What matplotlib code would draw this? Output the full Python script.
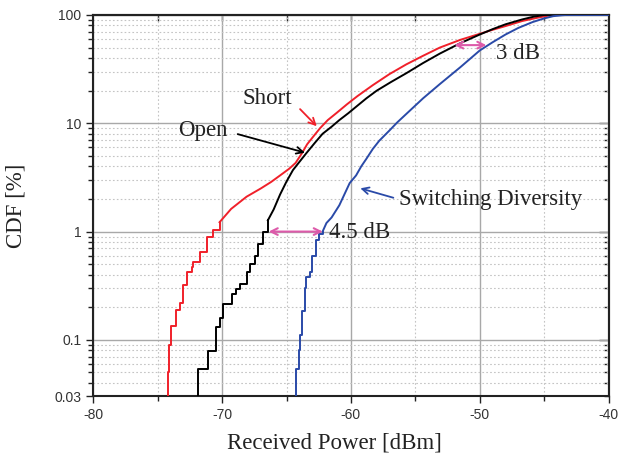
import numpy as np
import matplotlib
matplotlib.use("Agg")
import matplotlib.pyplot as plt
from matplotlib.ticker import FixedLocator, LogLocator, NullFormatter

plt.rcParams["axes.unicode_minus"] = False

# CDF curves: x = received power [dBm], y = CDF [%]
# low tail is an empirical (step) CDF, upper part is dense enough to draw as a line
short_tail_x = [-74.2, -74.2, -74.1, -74.0, -73.6, -73.3, -73.0, -72.75, -72.35, -72.25, -71.7, -71.2, -70.7, -70.2]
short_tail_y = [0.03, 0.05, 0.09, 0.135, 0.19, 0.22, 0.32, 0.42, 0.47, 0.52, 0.65, 0.885, 1.03, 1.22]
short_x = [-70.2, -69.3, -68.1, -67.0, -66.2, -65.5, -64.8, -64.3, -63.8, -63.4, -62.9, -62.4, -61.8,
           -61.1, -60.3, -59.5, -58.3, -57.0, -55.7, -54.4, -53.1, -51.5, -50.0, -49.0, -48.0, -46.7,
           -45.4, -44.7, -44.1, -40.0]
short_y = [1.22, 1.62, 2.1, 2.5, 2.87, 3.3, 3.8, 4.3, 5.3, 6.4, 7.6, 9.0, 10.7,
           12.5, 15.0, 17.8, 22.5, 28.5, 35.0, 42.0, 50.0, 59.0, 67.0, 73.0, 79.0, 88.0,
           95.0, 98.5, 100.0, 100.0]

open_tail_x = [-71.9, -71.9, -71.1, -70.45, -70.2, -69.9, -69.25, -68.95, -68.6, -68.1, -67.85, -67.45, -67.2, -66.8, -66.45]
open_tail_y = [0.03, 0.0536, 0.079, 0.132, 0.16, 0.214, 0.265, 0.294, 0.328, 0.42, 0.50, 0.60, 0.77, 0.99, 1.27]
open_x = [-66.45, -66.0, -65.5, -65.0, -64.5, -64.0, -63.46, -62.8, -62.2, -61.5, -60.9, -60.2, -59.6,
          -58.8, -58.0, -56.9, -55.7, -54.4, -53.1, -51.5, -50.0, -49.0, -48.0, -46.7, -45.8, -45.0, -40.0]
open_y = [1.27, 1.6, 2.2, 2.9, 3.7, 4.4, 5.3, 6.6, 8.0, 9.3, 10.7, 12.4, 14.2,
          17.0, 20.0, 24.0, 29.0, 36.0, 44.0, 55.0, 66.0, 74.0, 82.0, 91.0, 96.5, 100.0, 100.0]

sw_tail_x = [-64.3, -64.3, -64.0, -63.95, -63.8, -63.6, -63.45, -63.2, -63.0, -62.7, -62.45, -62.2]
sw_tail_y = [0.03, 0.0536, 0.08, 0.11, 0.186, 0.30, 0.38, 0.42, 0.60, 0.83, 0.95, 1.0]
sw_x = [-62.2, -61.9, -61.5, -60.9, -60.1, -59.6, -59.2, -58.8, -58.3, -57.8, -57.0, -56.4, -55.7,
        -54.4, -53.1, -51.5, -50.0, -49.0, -48.0, -47.0, -45.9, -45.0, -44.3, -43.6, -43.3, -40.0]
sw_y = [1.0, 1.2, 1.35, 1.75, 2.8, 3.3, 4.0, 4.7, 5.8, 6.9, 8.6, 10.2, 12.2,
        17.0, 23.0, 33.0, 47.0, 56.0, 66.0, 76.0, 86.0, 93.0, 97.5, 99.5, 100.0, 100.0]

ytick_vals = [0.03, 0.1, 1, 10, 100]
ytick_labels = ["0.03", "0.1", "1", "10", "100"]
xtick_vals = [-80, -70, -60, -50, -40]

RED = "#f0202a"
BLUE = "#2a4aa8"
PINK = "#dd5aaa"
SERIF = "Liberation Serif"

fig = plt.figure(figsize=(6.31, 4.57), dpi=100)
ax = fig.add_axes([0.1479, 0.1324, 0.8165, 0.8348])

# curves
for tx, ty, bx, by, col in [(short_tail_x, short_tail_y, short_x, short_y, RED),
                            (open_tail_x, open_tail_y, open_x, open_y, "black"),
                            (sw_tail_x, sw_tail_y, sw_x, sw_y, BLUE)]:
    ax.plot(tx, ty, color=col, lw=1.4, drawstyle="steps-post", zorder=3)
    ax.plot(bx, by, color=col, lw=1.4, zorder=3)

ax.set_yscale("log")
ax.set_xlim(-80, -40)
ax.set_ylim(0.03, 100)

ax.set_xticks(xtick_vals)
ax.xaxis.set_minor_locator(FixedLocator([-75, -65, -55, -45]))
ax.set_yticks(ytick_vals)
ax.set_yticklabels(ytick_labels)
ax.yaxis.set_minor_locator(LogLocator(base=10, subs=np.arange(2, 10)))
ax.yaxis.set_minor_formatter(NullFormatter())

ax.tick_params(which="both", direction="out", top=False, right=False,
               colors="#222222", labelsize=10, width=1.0)
ax.tick_params(which="major", length=5)
ax.tick_params(which="minor", length=3.5)
for lab in ax.get_xticklabels() + ax.get_yticklabels():
    lab.set_fontfamily("Liberation Sans")
    lab.set_color("#333333")

# grid
ax.grid(True, which="major", color="#a8a8a8", lw=1.0, ls="-", zorder=0)
ax.grid(True, which="minor", color="#c4c4c4", lw=0.8, ls=(0, (1.5, 2)), zorder=0)

for sp in ax.spines.values():
    sp.set_linewidth(1.5)
    sp.set_color("#222222")

# inward ticks on top and right
top = ax.secondary_xaxis("top")
top.set_xticks([-75, -70, -65, -60, -55, -50, -45])
top.tick_params(direction="in", length=4, width=1.0, labeltop=False, colors="#222222")
right = ax.secondary_yaxis("right")
right.set_yticks([0.1, 1, 10])
right.yaxis.set_minor_locator(LogLocator(base=10, subs=np.arange(2, 10)))
right.yaxis.set_minor_formatter(NullFormatter())
right.tick_params(which="major", direction="in", length=7, width=1.0, labelright=False, colors="#222222")
right.tick_params(which="minor", direction="in", length=3.5, width=1.0, labelright=False, colors="#222222")
for sp in list(top.spines.values()) + list(right.spines.values()):
    sp.set_linewidth(1.5)
    sp.set_color("#222222")

ax.set_xlabel("Received Power [dBm]", fontfamily=SERIF, fontsize=16.5, color="#222222", labelpad=4)
ax.xaxis.set_label_coords(0.468, -0.095)
ax.set_ylabel("CDF [%]", fontfamily=SERIF, fontsize=16.5, color="#222222")
ax.yaxis.set_label_coords(-0.13, 0.5)

# annotations
txt = dict(fontfamily=SERIF, fontsize=16.5, color="#222222")
ax.annotate("", xy=(-62.5, 9.0), xytext=(-64.1, 14.1),
            arrowprops=dict(arrowstyle="->", color=RED, lw=1.3, mutation_scale=12))
ax.text(-66.46, 17.0, "Short", ha="center", va="center", **txt)

ax.annotate("", xy=(-63.36, 5.27), xytext=(-69.0, 8.07),
            arrowprops=dict(arrowstyle="->", color="black", lw=1.3, mutation_scale=12))
ax.text(-71.5, 8.6, "Open", ha="center", va="center", **txt)

ax.annotate("", xy=(-59.48, 2.55), xytext=(-56.5, 2.02),
            arrowprops=dict(arrowstyle="->", color=BLUE, lw=1.3, mutation_scale=12))
ax.text(-56.23, 1.98, "Switching Diversity", ha="left", va="center", **txt)

ax.annotate("", xy=(-49.49, 52.7), xytext=(-51.97, 52.7),
            arrowprops=dict(arrowstyle="<->", color=PINK, lw=1.5, mutation_scale=12,
                            shrinkA=0, shrinkB=0))
ax.text(-48.71, 44.5, "3 dB", ha="left", va="center", **txt)

ax.annotate("", xy=(-62.19, 1.0), xytext=(-66.38, 1.0),
            arrowprops=dict(arrowstyle="<->", color=PINK, lw=1.5, mutation_scale=12,
                            shrinkA=0, shrinkB=0))
ax.text(-61.73, 0.98, "4.5 dB", ha="left", va="center", **txt)

fig.savefig("out.png", dpi=100)
